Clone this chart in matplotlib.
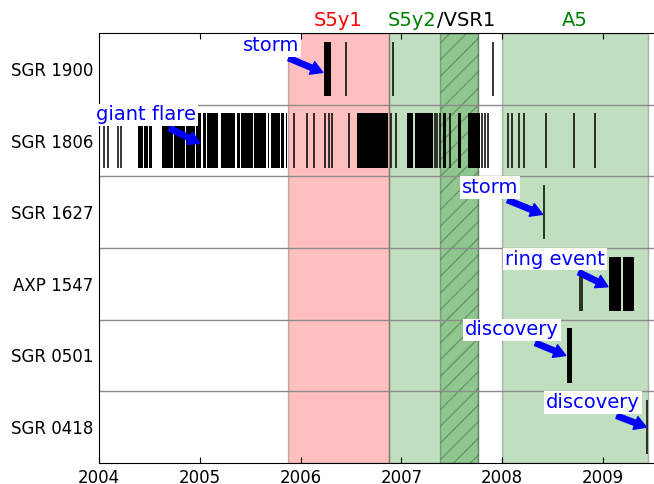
import numpy as np
import matplotlib
matplotlib.use("Agg")
import matplotlib.pyplot as plt
import matplotlib.transforms as mtransforms

# sources, top to bottom
sources = ["SGR 1900", "SGR 1806", "SGR 1627", "AXP 1547", "SGR 0501", "SGR 0418"]

# single bursts (decimal year) and dense burst-active intervals (start, end)
sgr1900_events = [2006.447, 2006.917, 2007.912]
sgr1900_bursts = [(2006.232, 2006.302)]

sgr1806_events = [2004.05, 2004.09, 2004.19, 2004.22, 2005.935, 2006.068,
                  2006.133, 2006.242, 2006.277, 2006.312, 2006.48, 2006.893,
                  2006.946, 2007.333, 2007.358, 2007.383, 2007.482, 2007.80,
                  2007.829, 2007.862, 2008.061, 2008.10, 2008.17, 2008.216,
                  2008.431, 2008.712, 2008.924]
sgr1806_bursts = [(2004.384, 2004.439), (2004.449, 2004.489), (2004.499, 2004.529),
                  (2004.622, 2004.737), (2004.747, 2004.853), (2004.863, 2004.952),
                  (2004.962, 2005.012), (2005.027, 2005.057), (2005.071, 2005.185),
                  (2005.215, 2005.354), (2005.369, 2005.394), (2005.409, 2005.523),
                  (2005.538, 2005.657), (2005.672, 2005.691), (2005.706, 2005.791),
                  (2005.806, 2005.840), (2005.855, 2005.865), (2006.556, 2006.868),
                  (2007.06, 2007.115), (2007.13, 2007.313), (2007.413, 2007.442),
                  (2007.565, 2007.591), (2007.664, 2007.78)]

sgr1627_events = [2008.415]
sgr1627_bursts = []

axp1547_events = [2008.775, 2008.79]
axp1547_bursts = [(2009.06, 2009.18), (2009.195, 2009.31)]

sgr0501_events = []
sgr0501_bursts = [(2008.643, 2008.692)]

sgr0418_events = [2009.44]
sgr0418_bursts = []

events = [sgr1900_events, sgr1806_events, sgr1627_events,
          axp1547_events, sgr0501_events, sgr0418_events]
bursts = [sgr1900_bursts, sgr1806_bursts, sgr1627_bursts,
          axp1547_bursts, sgr0501_bursts, sgr0418_bursts]

# science runs
s5y1 = (2005.875, 2006.877)
s5y2 = (2006.877, 2007.76)
vsr1 = (2007.38, 2007.76)
a5 = (2008.0, 2009.45)

years = [2004, 2005, 2006, 2007, 2008, 2009]

# annotations: label, source row, arrow tip, text centre
notes = [
    ("storm", "SGR 1900", (2006.22, -0.05), (2005.71, 0.33)),
    ("giant flare", "SGR 1806", (2005.00, -0.04), (2004.466, 0.356)),
    ("storm", "SGR 1627", (2008.40, -0.03), (2007.88, 0.35)),
    ("ring event", "AXP 1547", (2009.05, -0.04), (2008.524, 0.346)),
    ("discovery", "SGR 0501", (2008.63, 0.0), (2008.097, 0.356)),
    ("discovery", "SGR 0418", (2009.43, 0.0), (2008.90, 0.338)),
]


def main():
    fig = plt.figure(figsize=(6.54, 4.84), dpi=100)
    ax = fig.add_axes([99 / 654, 21 / 484, 555 / 654, 430 / 484])
    ax.set_xlim(2004, 2009.506)
    ax.set_ylim(-0.5, len(sources) - 0.5)

    ax.axvspan(*s5y1, fc="red", ec="k", alpha=0.25, lw=1, zorder=0)
    ax.axvspan(*s5y2, fc="green", ec="k", alpha=0.25, lw=1, zorder=0)
    ax.axvspan(*vsr1, fc="green", ec="k", alpha=0.25, lw=1, hatch="//", zorder=0)
    ax.axvspan(*a5, fc="green", ec="k", alpha=0.25, lw=1, zorder=0)

    rows = {}
    half = 0.38
    for i, name in enumerate(sources):
        y = len(sources) - 1 - i
        rows[name] = y
        if events[i]:
            ax.vlines(events[i], y - half, y + half, color="k", lw=1.1, zorder=2)
        if bursts[i]:
            ax.broken_barh([(s, e - s) for s, e in bursts[i]], (y - half, 2 * half),
                           fc="k", ec="none", zorder=2)
    for k in range(len(sources) - 1):
        ax.axhline(k + 0.5, color="0.55", lw=1, zorder=1)

    arrow = "simple,head_length=0.6,head_width=0.7,tail_width=0.28"
    for label, src, tip, txt in notes:
        y = rows[src]
        ax.annotate(label, xy=(tip[0], y + tip[1]), xytext=(txt[0], y + txt[1]),
                    color="blue", fontsize=14, ha="center", va="center", zorder=5,
                    bbox=dict(boxstyle="square,pad=0.1", fc="white", ec="none"),
                    arrowprops=dict(arrowstyle=arrow, fc="blue", ec="blue",
                                    relpos=(0.66, 0.0), shrinkA=3, shrinkB=0))

    ax.set_yticks(list(rows.values()))
    ax.set_yticklabels(list(rows.keys()), fontsize=12)
    ax.tick_params(axis="y", length=0, pad=4)
    ax.set_xticks(years)
    ax.set_xticklabels([str(y) for y in years], fontsize=12)
    ax.tick_params(axis="x", direction="in", top=True, length=4, pad=4)
    ax.spines["right"].set_visible(False)

    trans = mtransforms.blended_transform_factory(ax.transData, ax.transAxes)
    ax.text(sum(s5y1) / 2, 1.017, "S5y1", color="red", fontsize=14,
            ha="center", va="baseline", transform=trans)
    ax.text(sum(a5) / 2, 1.017, "A5", color="green", fontsize=14,
            ha="center", va="baseline", transform=trans)
    t1 = ax.text(s5y2[0] - 0.01, 1.017, "S5y2", color="green", fontsize=14,
                 ha="left", va="baseline", transform=trans)
    ax.annotate("/VSR1", xy=(1, 0), xycoords=t1, color="k", fontsize=14,
                ha="left", va="bottom")

    fig.savefig("out.png", dpi=100)
    plt.close(fig)


if __name__ == "__main__":
    main()
